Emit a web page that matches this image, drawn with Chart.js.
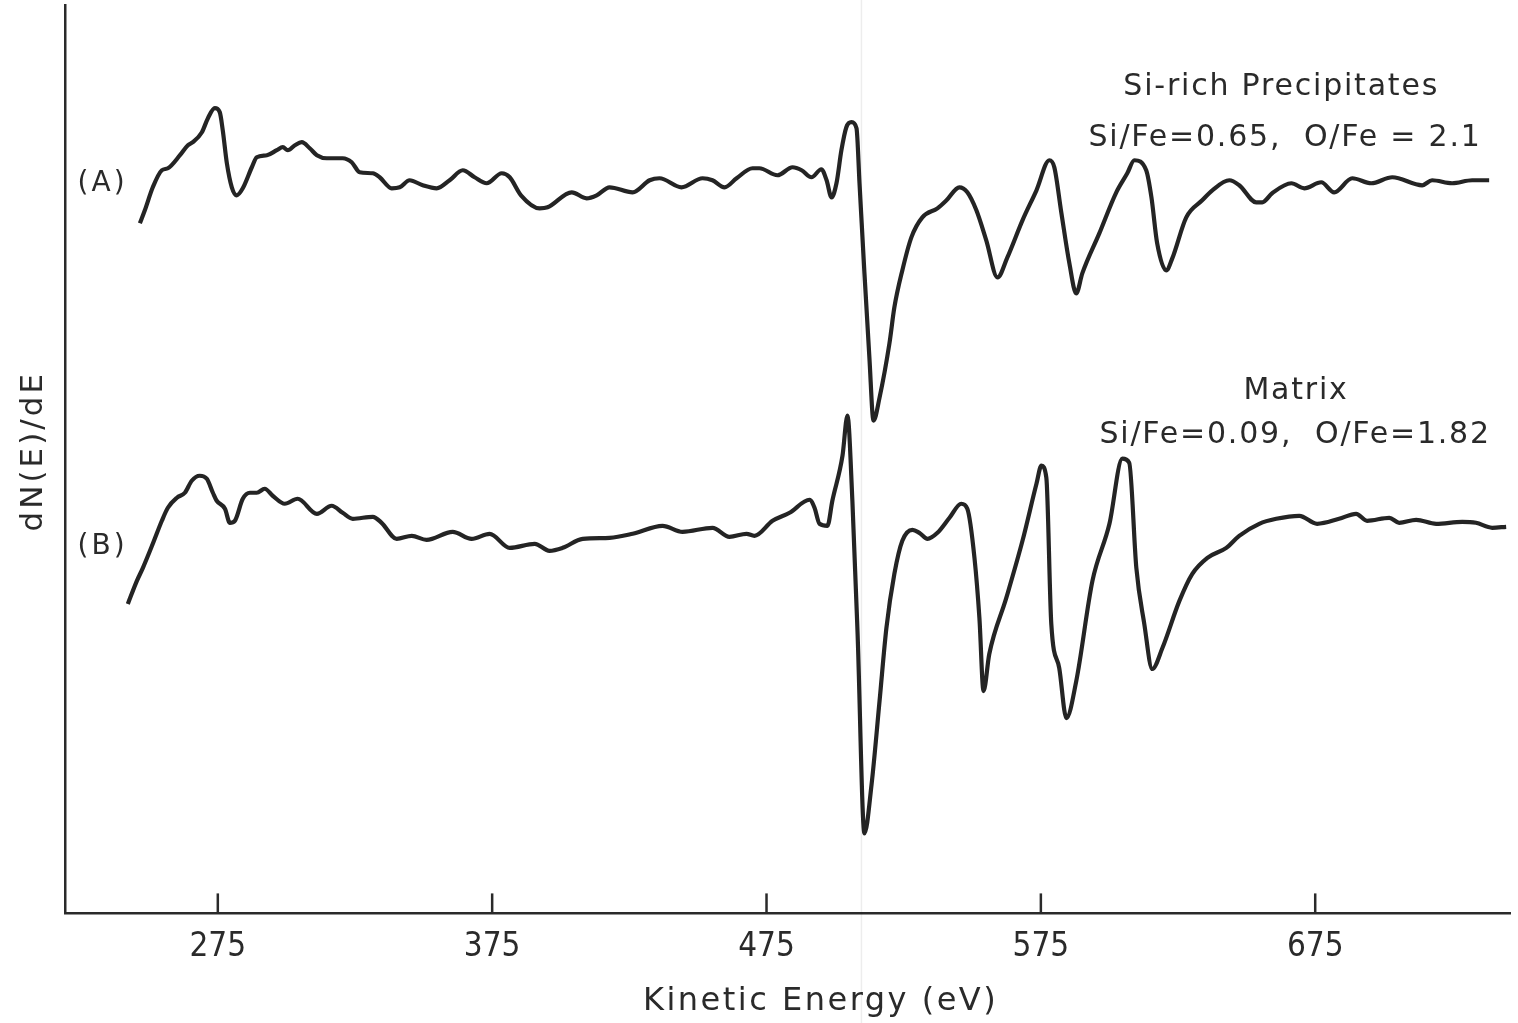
<!DOCTYPE html>
<html>
<head>
<meta charset="utf-8">
<title>dN(E)/dE vs Kinetic Energy</title>
<script src="https://cdn.jsdelivr.net/npm/chart.js@4.4.1/dist/chart.umd.min.js"></script>
<style>
  html, body { margin: 0; padding: 0; background: #fff; overflow: hidden; }
  canvas { display: block; }
</style>
</head>
<body>
<canvas id="augerChart" width="1518" height="1023"></canvas>
<script>
// Auger spectra, derivative mode (arbitrary units)
var tickEnergies = [275, 375, 475, 575, 675];

// (A) Si-rich precipitates
var energyA = [246.6, 248.4, 251.3, 254.6, 256.8, 261.2, 264.1, 265.9, 269.2, 271.4, 273.9, 275.7, 276.8, 278.3, 280.1, 281.9, 284.1, 287.4, 289.2, 292.9,
  296.5, 298.7, 300.5, 303.1, 305.6, 308.5, 311.1, 314.7, 320.5, 323.8, 326.7, 331.5, 334.0, 338.4, 341.3, 344.9, 349.7, 354.8, 359.5, 364.3,
  368.6, 373.0, 378.5, 381.4, 385.5, 392.3, 395.2, 404.0, 409.4, 413.1, 417.8, 426.2, 432.4, 436.0, 444.0, 451.7, 455.3, 459.7, 464.1, 469.9,
  472.4, 479.0, 484.5, 487.8, 491.4, 495.0, 496.9, 498.7, 500.5, 502.3, 504.1, 506.0, 507.8, 508.9, 510.7, 512.5, 514.0, 516.2, 519.8, 521.6,
  524.5, 527.8, 531.8, 537.3, 540.6, 545.3, 548.2, 551.5, 555.1, 559.2, 562.8, 568.3, 573.4, 578.1, 579.9, 582.5, 585.4, 587.9, 590.1, 596.3,
  602.5, 606.5, 609.1, 613.4, 615.3, 617.4, 620.7, 622.9, 628.0, 633.8, 637.5, 643.7, 647.3, 653.5, 655.7, 659.3, 666.3, 671.0, 677.2, 681.9,
  688.5, 695.4, 703.1, 714.0, 717.6, 724.9, 732.2, 738.4];
var signalA = [689, 702, 725, 742, 744, 757, 767, 770, 780, 794, 804, 800, 782, 749, 725, 717, 724, 745, 755, 757,
  762, 765, 762, 767, 770, 764, 757, 754, 754, 750, 740, 739, 735, 724, 725, 732, 727, 724, 732, 742,
  735, 729, 739, 735, 717, 704, 705, 720, 714, 717, 725, 720, 732, 734, 725, 734, 732, 725, 734, 744,
  744, 737, 745, 742, 735, 743, 732, 715, 729, 762, 785, 790, 784, 729, 639, 555, 492, 515, 569, 605,
  642, 675, 695, 704, 712, 725, 720, 702, 672, 635, 655, 692, 722, 752, 745, 699, 649, 619, 639, 679,
  720, 739, 752, 742, 715, 669, 642, 654, 695, 712, 722, 732, 727, 710, 710, 719, 729, 724, 730, 720,
  734, 729, 735, 727, 732, 729, 732, 732];

// (B) matrix
var energyB = [242.2, 245.5, 247.7, 251.3, 254.6, 256.8, 260.1, 263.0, 265.5, 268.4, 271.0, 273.2, 274.6, 277.6, 279.4, 281.2, 284.1, 286.7, 289.2, 292.1,
  295.0, 299.4, 304.1, 311.1, 316.5, 320.5, 324.2, 331.5, 334.7, 340.2, 345.7, 351.1, 360.6, 367.5, 374.1, 381.4, 390.5, 395.9, 400.7, 408.0,
  417.8, 426.2, 437.1, 444.4, 455.3, 461.5, 467.7, 470.6, 477.2, 483.4, 490.7, 492.5, 494.3, 497.2, 499.0, 502.7, 504.5, 506.3, 508.2, 510.7,
  513.3, 516.2, 518.7, 521.6, 524.5, 528.2, 530.7, 533.7, 537.3, 541.7, 546.0, 548.2, 550.8, 552.6, 554.1, 556.2, 562.4, 568.3, 573.4, 575.2,
  577.0, 578.8, 581.7, 584.3, 587.9, 593.8, 600.0, 604.7, 607.2, 609.8, 612.7, 615.6, 619.3, 625.5, 630.2, 635.7, 642.6, 647.3, 654.6, 660.8,
  669.2, 675.7, 683.7, 689.9, 693.9, 702.0, 705.6, 711.8, 719.1, 728.6, 733.6, 739.5, 744.6];
var signalB = [309, 332, 345, 369, 392, 405, 415, 420, 432, 437, 434, 420, 412, 404, 390, 392, 414, 420, 420, 424,
  417, 409, 414, 399, 407, 400, 394, 396, 390, 374, 377, 373, 381, 374, 379, 365, 369, 362, 365, 374,
  375, 379, 387, 381, 385, 376, 379, 377, 392, 400, 413, 405, 389, 387, 412, 457, 497, 412, 279, 80,
  129, 212, 285, 339, 372, 383, 380, 374, 380, 395, 409, 404, 355, 295, 222, 259, 315, 372, 429, 447,
  435, 289, 245, 195, 232, 332, 389, 454, 450, 345, 289, 244, 265, 312, 339, 355, 365, 377, 389, 394,
  397, 389, 394, 399, 392, 395, 390, 393, 389, 391, 390, 385, 386];

function pairs(xs, ys) {
  return xs.map(function (x, i) { return { x: x, y: ys[i] }; });
}

var inkColor = '#2a2a2a';
var textFont = '"DejaVu Sans", "Noto Sans", sans-serif';

// axis titles, upward tick marks and curve labels
var annotations = {
  id: 'annotations',
  afterDraw: function (chart) {
    var ctx = chart.ctx;
    var xs = chart.scales.x;
    var ys = chart.scales.y;
    var area = chart.chartArea;

    ctx.save();
    // faint fold line across the sheet
    ctx.strokeStyle = 'rgba(0,0,0,0.07)';
    ctx.lineWidth = 1.5;
    ctx.beginPath();
    ctx.moveTo(xs.getPixelForValue(509.6), 0);
    ctx.lineTo(xs.getPixelForValue(509.6), chart.height);
    ctx.stroke();

    ctx.strokeStyle = inkColor;
    ctx.lineWidth = 2.5;
    tickEnergies.forEach(function (e) {
      var px = xs.getPixelForValue(e);
      ctx.beginPath();
      ctx.moveTo(px, area.bottom);
      ctx.lineTo(px, area.bottom - 20);
      ctx.stroke();
    });

    ctx.fillStyle = inkColor;
    ctx.textAlign = 'center';
    ctx.textBaseline = 'alphabetic';

    ctx.font = '32px ' + textFont;
    ctx.letterSpacing = '2.5px';
    ctx.fillText('Kinetic Energy (eV)', xs.getPixelForValue(494.7), 1010);

    ctx.save();
    ctx.translate(42, (area.top + area.bottom) / 2 - 8);
    ctx.rotate(-Math.PI / 2);
    ctx.font = '31px ' + textFont;
    ctx.letterSpacing = '3px';
    ctx.fillText('dN(E)/dE', 0, 0);
    ctx.restore();

    ctx.font = '30px ' + textFont;
    ctx.letterSpacing = '1.8px';
    [
      ['Si-rich Precipitates', 662.6, 817],
      ['Si/Fe=0.65,  O/Fe = 2.1', 664, 766],
      ['Matrix', 668, 514],
      ['Si/Fe=0.09,  O/Fe=1.82', 667.7, 470]
    ].forEach(function (n) {
      ctx.fillText(n[0], xs.getPixelForValue(n[1]), ys.getPixelForValue(n[2]));
    });

    ctx.font = '28px ' + textFont;
    ctx.letterSpacing = '3px';
    ctx.fillText('(A)', xs.getPixelForValue(233), ys.getPixelForValue(721));
    ctx.fillText('(B)', xs.getPixelForValue(233), ys.getPixelForValue(359));
    ctx.restore();
  }
};

var ctx = document.getElementById('augerChart');
var chart = new Chart(ctx, {
  type: 'line',
  data: {
    datasets: [{
      label: 'Si-rich Precipitates',
      data: pairs(energyA, signalA),
      borderColor: '#242424',
      borderWidth: 4.2,
      pointRadius: 0,
      cubicInterpolationMode: 'monotone',
      fill: false
    }, {
      label: 'Matrix',
      data: pairs(energyB, signalB),
      borderColor: '#242424',
      borderWidth: 4.2,
      pointRadius: 0,
      cubicInterpolationMode: 'monotone',
      fill: false
    }]
  },
  plugins: [annotations],
  options: {
    responsive: false,
    animation: false,
    devicePixelRatio: 1,
    layout: {
      padding: { left: 65, right: 8, top: 5, bottom: 42 }
    },
    plugins: {
      legend: { display: false },
      tooltip: { enabled: false }
    },
    scales: {
      x: {
        type: 'linear',
        min: 219.3,
        max: 746,
        afterBuildTicks: function (scale) {
          scale.ticks = tickEnergies.map(function (v) { return { value: v }; });
        },
        ticks: {
          color: inkColor,
          padding: 14,
          maxRotation: 0,
          autoSkip: false,
          font: { family: '"Liberation Sans Narrow", "DejaVu Sans Condensed", sans-serif', size: 33 }
        },
        grid: { display: false, drawTicks: false },
        border: { display: true, color: inkColor, width: 2.5 }
      },
      y: {
        min: 0,
        max: 907,
        ticks: { display: false },
        grid: { display: false, drawTicks: false },
        border: { display: true, color: inkColor, width: 2.5 }
      }
    }
  }
});
</script>
</body>
</html>
